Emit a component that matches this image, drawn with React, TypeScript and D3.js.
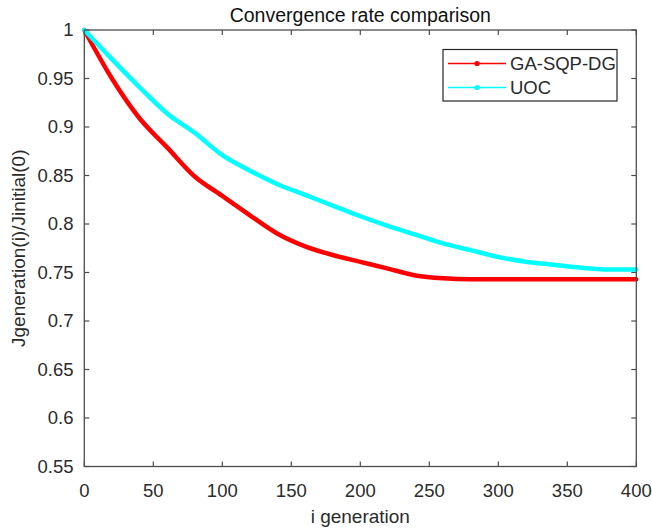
import React from "react";
import * as d3 from "d3";

// Iteration index sampled every 20 generations
const generations = [0, 20, 40, 60, 80, 100, 120, 140, 160, 180, 200, 220, 240, 260, 280, 300, 320, 340, 360, 380, 400];
// Normalised cost Jgeneration(i)/Jinitial(0)
const gaSqpDg = [1.0, 0.95, 0.909, 0.879, 0.849, 0.829, 0.809, 0.79, 0.777, 0.768, 0.761, 0.754, 0.747, 0.744, 0.743, 0.743, 0.743, 0.743, 0.743, 0.743, 0.743];
const uoc = [1.0, 0.97, 0.941, 0.914, 0.894, 0.871, 0.855, 0.841, 0.83, 0.819, 0.808, 0.798, 0.789, 0.78, 0.773, 0.766, 0.761, 0.758, 0.755, 0.753, 0.753];

const xTicks = [0, 50, 100, 150, 200, 250, 300, 350, 400];
const yTicks = [0.55, 0.6, 0.65, 0.7, 0.75, 0.8, 0.85, 0.9, 0.95, 1];

const seriesNames = ["GA-SQP-DG", "UOC"];
const seriesColors = ["#ff0000", "#00ffff"];

const W = 652;
const H = 529;
const left = 84.3;
const right = 636.3;
const top = 30;
const bottom = 466.5;

export default function App() {
  const x = d3.scaleLinear().domain([0, 400]).range([left, right]);
  const y = d3.scaleLinear().domain([0.55, 1]).range([bottom, top]);
  const fmtY = (v: number) => d3.format("")(+v.toFixed(2));

  const line = d3
    .line<[number, number]>()
    .x((d) => x(d[0]))
    .y((d) => y(d[1]))
    .curve(d3.curveMonotoneX);

  const series = [gaSqpDg, uoc].map((vals) => generations.map((g, i) => [g, vals[i]] as [number, number]));

  const axisColor = "#4d4d4d";
  const textColor = "#2b2b2b";
  const font = "Liberation Sans, Arial, Helvetica, sans-serif";
  const tickLen = 5;

  const legX = 443;
  const legY = 49.5;
  const legW = 174;
  const legH = 51.5;
  const rowY = [63.5, 87.5];

  return (
    <svg
      width={W}
      height={H}
      style={{ position: "absolute", left: 0, top: 0, background: "#fff" }}
      fontFamily={font}
    >
      <rect x={0} y={0} width={W} height={H} fill="#fff" />
      <defs>
        <clipPath id="plotArea">
          <rect x={left - 3} y={top - 3} width={right - left + 6} height={bottom - top + 6} />
        </clipPath>
      </defs>

      {/* tick marks on all four sides */}
      {xTicks.map((t) => (
        <g key={"xt" + t}>
          <line x1={x(t)} x2={x(t)} y1={bottom} y2={bottom - tickLen} stroke={axisColor} strokeWidth={1.2} />
          <line x1={x(t)} x2={x(t)} y1={top} y2={top + tickLen} stroke={axisColor} strokeWidth={1.2} />
          <text x={x(t)} y={497} textAnchor="middle" fontSize={18.5} fill={textColor}>
            {t}
          </text>
        </g>
      ))}
      {yTicks.map((t) => (
        <g key={"yt" + t}>
          <line x1={left} x2={left + tickLen} y1={y(t)} y2={y(t)} stroke={axisColor} strokeWidth={1.2} />
          <line x1={right} x2={right - tickLen} y1={y(t)} y2={y(t)} stroke={axisColor} strokeWidth={1.2} />
          <text x={73.5} y={y(t)} dy="0.35em" textAnchor="end" fontSize={18.5} fill={textColor}>
            {fmtY(t)}
          </text>
        </g>
      ))}

      {/* data lines */}
      <g clipPath="url(#plotArea)">
        {series.map((s, i) => (
          <path
            key={seriesNames[i]}
            d={line(s) || ""}
            fill="none"
            stroke={seriesColors[i]}
            strokeWidth={4.5}
            strokeLinejoin="round"
            strokeLinecap="round"
          />
        ))}
      </g>

      {/* axes box */}
      <rect
        x={left}
        y={top}
        width={right - left}
        height={bottom - top}
        fill="none"
        stroke={axisColor}
        strokeWidth={1.3}
      />

      {/* title and axis labels */}
      <text x={(left + right) / 2} y={22} textAnchor="middle" fontSize={19.5} fill="#111">
        Convergence rate comparison
      </text>
      <text x={(left + right) / 2} y={523} textAnchor="middle" fontSize={19} fill={textColor}>
        i generation
      </text>
      <text
        transform={`translate(25, ${(top + bottom) / 2}) rotate(-90)`}
        textAnchor="middle"
        fontSize={19}
        fill={textColor}
      >
        Jgeneration(i)/Jinitial(0)
      </text>

      {/* legend */}
      <rect x={legX} y={legY} width={legW} height={legH} fill="#fff" stroke="#262626" strokeWidth={1.2} />
      {seriesNames.map((name, i) => (
        <g key={"leg" + name}>
          <line x1={448} x2={506} y1={rowY[i]} y2={rowY[i]} stroke={seriesColors[i]} strokeWidth={1.5} />
          <circle cx={477} cy={rowY[i]} r={2.6} fill={seriesColors[i]} />
          <text x={510} y={rowY[i]} dy="0.35em" fontSize={18.5} fill={textColor}>
            {name}
          </text>
        </g>
      ))}
    </svg>
  );
}
